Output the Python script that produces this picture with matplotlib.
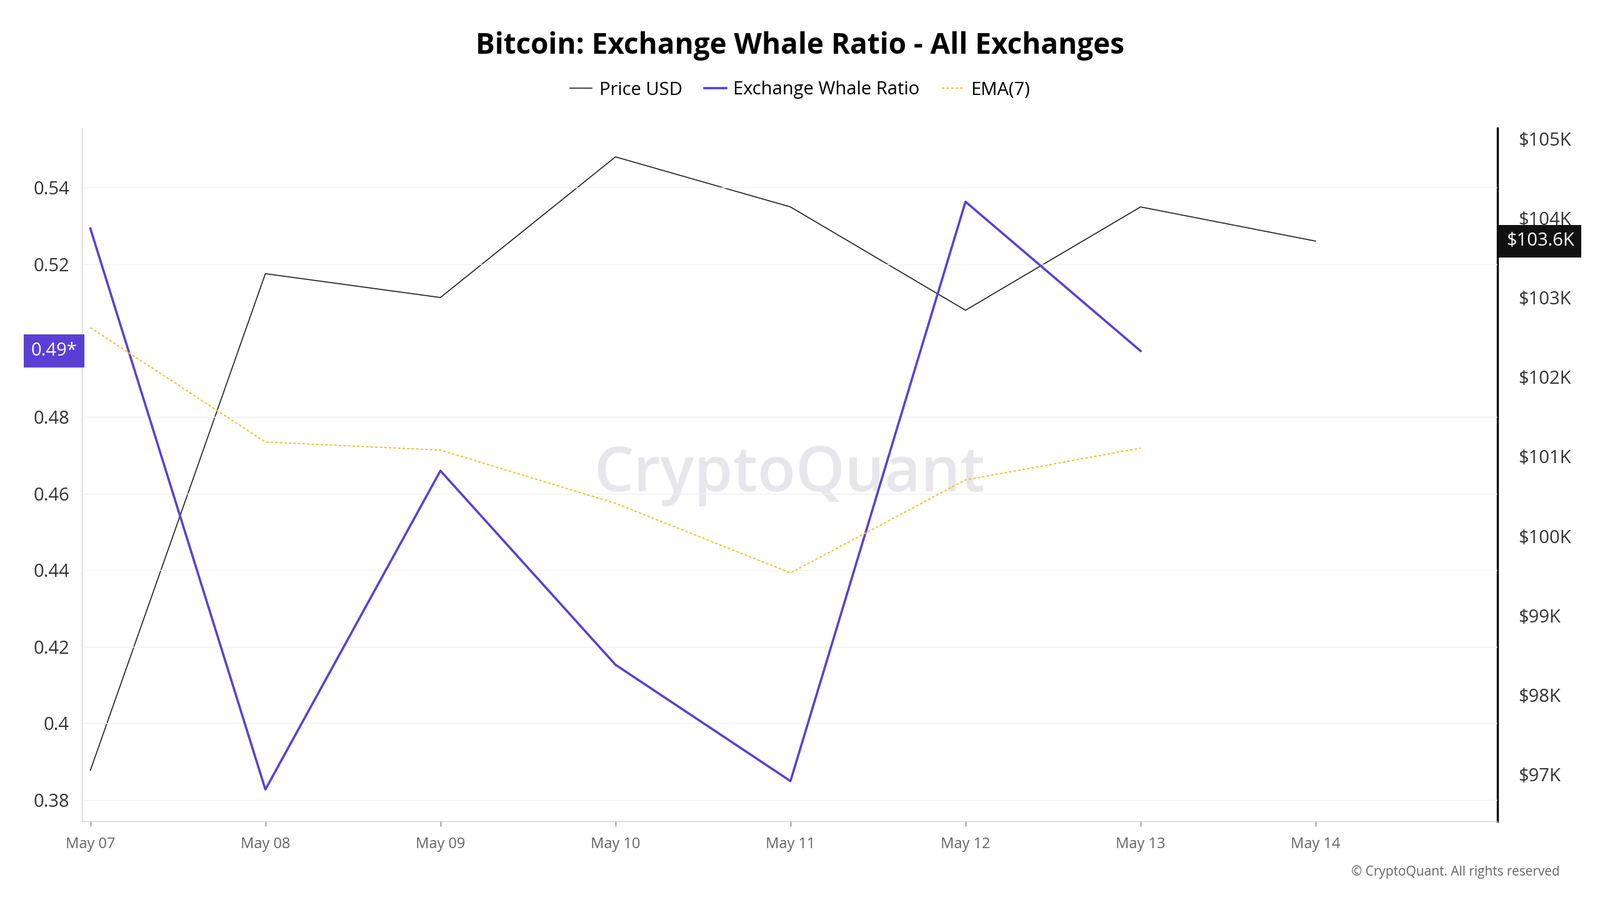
import matplotlib
matplotlib.use("Agg")
import matplotlib.pyplot as plt
from matplotlib.ticker import FuncFormatter

dates = ["May 07", "May 08", "May 09", "May 10", "May 11", "May 12", "May 13", "May 14"]
price_k = [97.05, 103.30, 103.0, 104.77, 104.14, 102.84, 104.14, 103.71]
whale = [0.5293, 0.3827, 0.466, 0.4153, 0.3849, 0.5363, 0.4973]
ema7 = [0.5034, 0.4735, 0.4714, 0.4575, 0.4393, 0.4636, 0.4719]

plt.rcParams["font.family"] = "Open Sans"
fig = plt.figure(figsize=(25.6, 14.4), dpi=100)
ax = fig.add_axes([0.051, 0.0875, 0.885, 0.77])
ax2 = ax.twinx()

x = list(range(len(dates)))
ax2.plot(x, price_k, color="#222222", lw=1.2, label="Price USD")
ax.plot(x[:len(whale)], whale, color="#5a3fd6", lw=2.6, label="Exchange Whale Ratio")
ax.plot(x[:len(ema7)], ema7, color="#e6c832", lw=1.5, ls=(0, (2, 1.5)), label="EMA(7)")
ax.set_zorder(2)
ax.patch.set_visible(False)

ax.set_xlim(-0.05, 8.04)
ax.set_ylim(0.3744, 0.5555)
ax2.set_ylim(96.41, 105.13)
ax.set_yticks([0.38, 0.40, 0.42, 0.44, 0.46, 0.48, 0.52, 0.54])
ax.yaxis.set_major_formatter(FuncFormatter(lambda v, p: "0.4" if abs(v - 0.4) < 1e-9 else f"{v:.2f}"))
ax2.set_yticks(range(97, 106))
ax2.yaxis.set_major_formatter(FuncFormatter(lambda v, p: f"${int(v)}K"))
ax.set_xticks(x)
ax.set_xticklabels(dates)
ax.grid(axis="y", color="#f0f0f0", lw=1)
ax.tick_params(axis="y", labelsize=21, length=0, colors="#333333", pad=14)
ax.tick_params(axis="x", labelsize=17, colors="#666666", length=6, pad=12)
ax2.tick_params(axis="y", labelsize=21, length=0, colors="#333333", pad=24)
for a in (ax, ax2):
    a.spines["top"].set_visible(False)
    a.spines["left"].set_color("#cccccc")
    a.spines["bottom"].set_color("#cccccc")
ax2.spines["right"].set_color("#111111")
ax2.spines["right"].set_linewidth(2.5)

ax.text(-0.0195, whale[-1], "0.49*", fontsize=21, color="white", ha="center", va="center",
        transform=ax.get_yaxis_transform(), clip_on=False,
        bbox=dict(boxstyle="square,pad=0.4", fc="#5a3fd6", ec="none"))
ax2.text(1.03, price_k[-1], "$103.6K", fontsize=21, color="white", ha="center", va="center",
         transform=ax2.get_yaxis_transform(), clip_on=False,
         bbox=dict(boxstyle="square,pad=0.4", fc="#111111", ec="none"))

ax.text(0.5, 0.5, "CryptoQuant", fontsize=72, fontweight="semibold", color="#d8d8de", alpha=0.6,
        ha="center", va="center", transform=ax.transAxes, zorder=0)

fig.suptitle("Bitcoin: Exchange Whale Ratio - All Exchanges", fontsize=33, fontweight="bold", y=0.965)
h1, l1 = ax2.get_legend_handles_labels()
h2, l2 = ax.get_legend_handles_labels()
fig.legend(h1 + h2, l1 + l2, loc="center", bbox_to_anchor=(0.5, 0.9), ncol=3, frameon=False,
           fontsize=21, handlelength=1.2, handletextpad=0.4, columnspacing=1.2)
fig.text(0.975, 0.027, "© CryptoQuant. All rights reserved", fontsize=15, color="#666666", ha="right")

fig.savefig("out.png", dpi=100)
